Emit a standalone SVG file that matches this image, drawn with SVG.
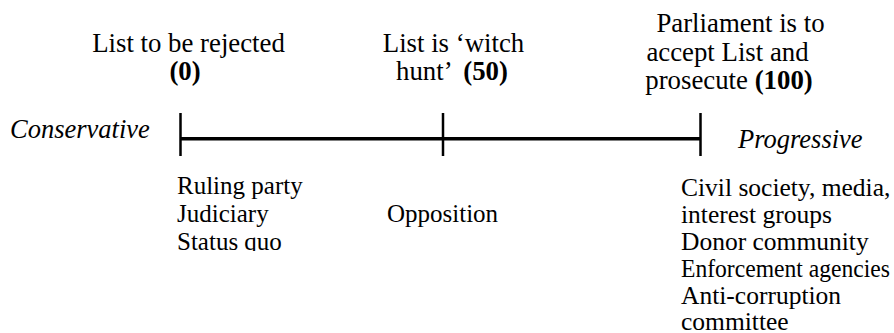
<svg xmlns="http://www.w3.org/2000/svg" width="894" height="333" viewBox="0 0 894 333">
  <style>
    text { font-family: "Liberation Serif", "Times New Roman", serif; font-size: 25.5px; fill: #000; }
    .head { font-size: 26.8px; }
    .pole { font-size: 26.5px; font-style: italic; }
    .lo { font-size: 25px; }
    .b { font-weight: bold; }
    .mid { text-anchor: middle; }
    .axis { stroke: #000; stroke-width: 3.5; fill: none; }
    .tick { stroke: #000; stroke-width: 2.5; fill: none; }
  </style>
  <defs>
    <clipPath id="cut-bottom">
      <rect x="150" y="160" width="200" height="91"/>
    </clipPath>
  </defs>
  <rect width="894" height="333" fill="#fff"/>

  <!-- scale axis with three tick marks -->
  <g id="connectors">
    <line class="axis" x1="180" y1="138.7" x2="701" y2="138.7"/>
    <line class="tick" x1="180.5" y1="113" x2="180.5" y2="156"/>
    <line class="tick" x1="443" y1="113" x2="443" y2="156"/>
    <line class="tick" x1="700.5" y1="113" x2="700.5" y2="156"/>
  </g>

  <g id="pole-conservative">
    <text class="pole" x="10" y="138">Conservative</text>
  </g>
  <g id="pole-progressive">
    <text class="pole" x="738" y="148">Progressive</text>
  </g>

  <g id="position-0">
    <text class="head mid" x="188.5" y="52">List to be rejected</text>
    <text class="head mid b" x="185" y="80">(0)</text>
  </g>
  <g id="position-50">
    <text class="head mid" x="453.5" y="52">List is ‘witch</text>
    <text class="head" x="396" y="80">hunt’ <tspan class="b" dx="6">(50)</tspan></text>
  </g>
  <g id="position-100">
    <text class="head mid" x="740.5" y="32">Parliament is to</text>
    <text class="head mid" x="727.5" y="61">accept List and</text>
    <text class="head mid" x="729" y="89">prosecute <tspan class="b">(100)</tspan></text>
  </g>

  <g id="actors-0">
    <text class="lo" x="177" y="194">Ruling party</text>
    <text class="lo" x="177" y="222">Judiciary</text>
    <text class="lo" x="177" y="250" clip-path="url(#cut-bottom)">Status quo</text>
  </g>
  <g id="actors-50">
    <text class="lo" x="387" y="222">Opposition</text>
  </g>
  <g id="actors-100">
    <text x="681" y="196">Civil society, media,</text>
    <text x="681" y="223">interest groups</text>
    <text x="681" y="250">Donor community</text>
    <text x="681" y="277" textLength="209" lengthAdjust="spacingAndGlyphs">Enforcement agencies</text>
    <text x="681" y="304">Anti-corruption</text>
    <text x="681" y="330">committee</text>
  </g>
</svg>
